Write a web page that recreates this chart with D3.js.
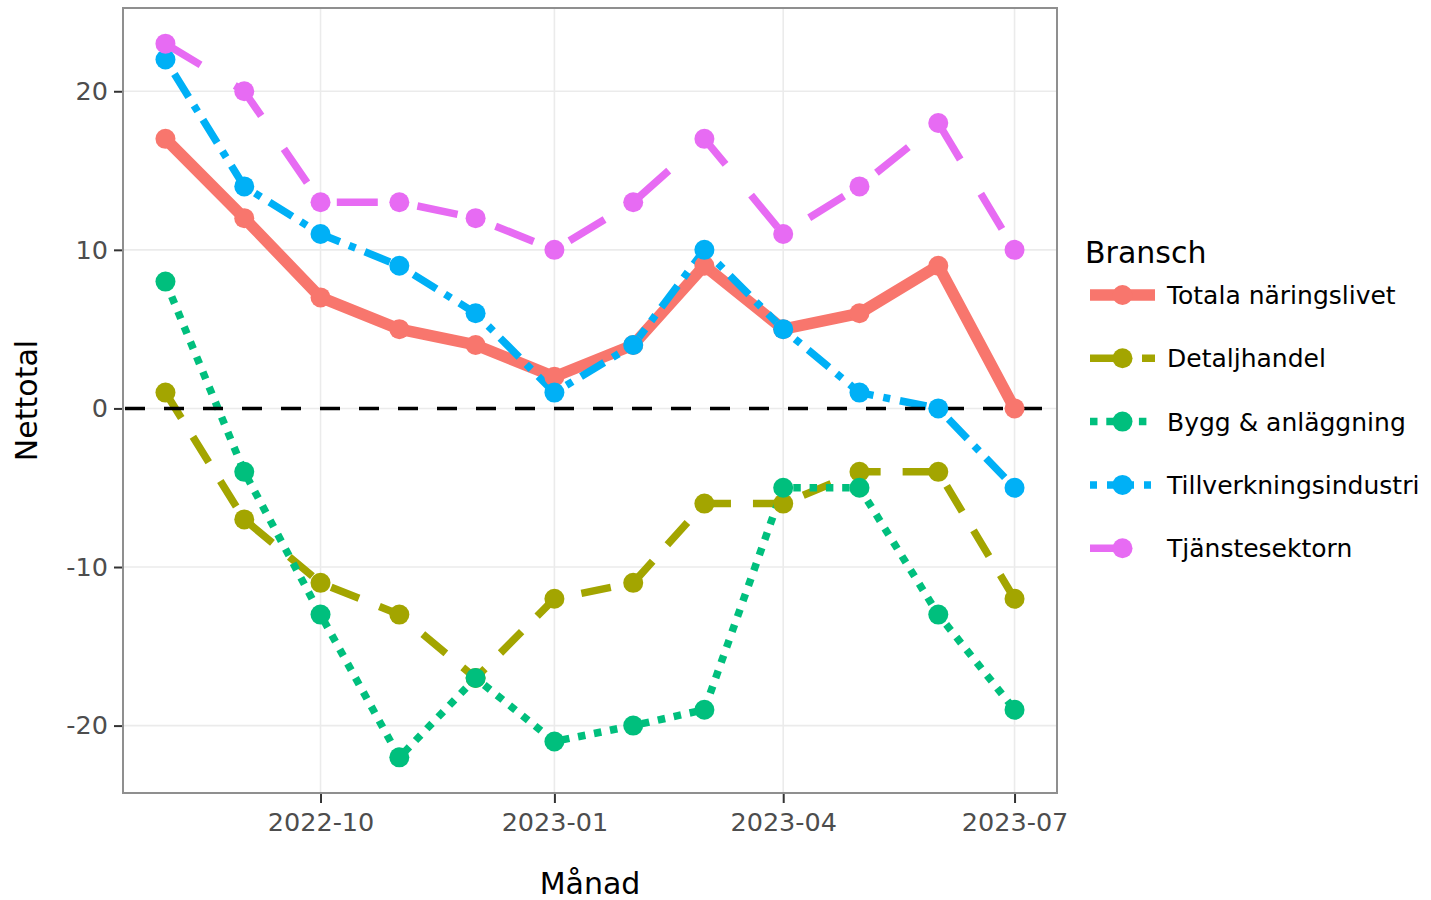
<!DOCTYPE html>
<html>
<head>
<meta charset="utf-8">
<script src="https://cdn.jsdelivr.net/npm/d3@7"></script>
<style>
  body { margin: 0; background: #fff; }
  svg { display: block; font-family: "DejaVu Sans", Verdana, sans-serif; }
</style>
</head>
<body>
<svg id="chart" width="1431" height="900"></svg>
<script>
// data
const months = ['2022-08', '2022-09', '2022-10', '2022-11', '2022-12', '2023-01',
                '2023-02', '2023-03', '2023-04', '2023-05', '2023-06', '2023-07'];
const seriesNames = ['Totala näringslivet', 'Detaljhandel', 'Bygg & anläggning',
                     'Tillverkningsindustri', 'Tjänstesektorn'];
const totala = [17, 12, 7, 5, 4, 2, 4, 9, 5, 6, 9, 0];
const detaljhandel = [1, -7, -11, -13, -17, -12, -11, -6, -6, -4, -4, -12];
const bygg = [8, -4, -13, -22, -17, -21, -20, -19, -5, -5, -13, -19];
const tillverkning = [22, 14, 11, 9, 6, 1, 4, 10, 5, 1, 0, -5];
const tjanste = [23, 20, 13, 13, 12, 10, 13, 17, 11, 14, 18, 10];
const xTicks = ['2022-10', '2023-01', '2023-04', '2023-07'];
const yTicks = [-20, -10, 0, 10, 20];

const colors = ['#F8766D', '#A3A500', '#00BF7D', '#00B0F6', '#E76BF3'];
const widths = [11.5, 7.5, 7.5, 7.5, 7.5];
const dashes = [null, '30 22', '7.5 8.8', '7 10 27 10', '41 40'];

const parse = d3.timeParse('%Y-%m');
const values = [totala, detaljhandel, bygg, tillverkning, tjanste];
const series = seriesNames.map((name, i) => ({
    name: name,
    color: colors[i],
    width: widths[i],
    dash: dashes[i],
    points: months.map((m, j) => ({ date: parse(m), value: values[i][j] }))
}));

const panel = { left: 123, right: 1057, top: 8, bottom: 793 };

// ggplot style 5% expansion
const d0 = parse(months[0]), d1 = parse(months[months.length - 1]);
const pad = (d1 - d0) * 0.05;
const x = d3.scaleTime()
    .domain([new Date(+d0 - pad), new Date(+d1 + pad)])
    .range([panel.left, panel.right]);

const allVals = values.flat();
const vmin = d3.min(allVals), vmax = d3.max(allVals);
const vpad = (vmax - vmin) * 0.05;
const y = d3.scaleLinear()
    .domain([vmin - vpad, vmax + vpad])
    .range([panel.bottom, panel.top]);

const svg = d3.select('#chart');

// grid
const grid = svg.append('g');
grid.selectAll('line.gy').data(yTicks).join('line')
    .attr('x1', panel.left).attr('x2', panel.right)
    .attr('y1', d => y(d)).attr('y2', d => y(d))
    .attr('stroke', '#ebebeb').attr('stroke-width', 1.6);
grid.selectAll('line.gx').data(xTicks).join('line')
    .attr('x1', d => x(parse(d))).attr('x2', d => x(parse(d)))
    .attr('y1', panel.top).attr('y2', panel.bottom)
    .attr('stroke', '#ebebeb').attr('stroke-width', 1.6);

// lines
const line = d3.line().x(d => x(d.date)).y(d => y(d.value));
svg.append('g').selectAll('path').data(series).join('path')
    .attr('d', d => line(d.points))
    .attr('fill', 'none')
    .attr('stroke', d => d.color)
    .attr('stroke-width', d => d.width)
    .attr('stroke-dasharray', d => d.dash)
    .attr('stroke-linejoin', 'round');

// zero line
svg.append('line')
    .attr('x1', panel.left + 2).attr('x2', panel.right - 2)
    .attr('y1', y(0)).attr('y2', y(0))
    .attr('stroke', '#000').attr('stroke-width', 3.5)
    .attr('stroke-dasharray', '20 19');

// points
svg.append('g').selectAll('g').data(series).join('g')
    .attr('fill', d => d.color)
    .selectAll('circle').data(d => d.points).join('circle')
    .attr('cx', d => x(d.date)).attr('cy', d => y(d.value))
    .attr('r', 10);

// panel border
svg.append('rect')
    .attr('x', panel.left).attr('y', panel.top)
    .attr('width', panel.right - panel.left).attr('height', panel.bottom - panel.top)
    .attr('fill', 'none').attr('stroke', '#8f8f8f').attr('stroke-width', 2);

// axes
const yAxis = svg.append('g')
    .attr('transform', `translate(${panel.left - 1},0)`)
    .call(d3.axisLeft(y).tickValues(yTicks).tickSize(8).tickPadding(6)
        .tickFormat(d => String(d)));
const xAxis = svg.append('g')
    .attr('transform', `translate(0,${panel.bottom + 1})`)
    .call(d3.axisBottom(x).tickValues(xTicks.map(parse)).tickSize(9).tickPadding(10)
        .tickFormat(d3.timeFormat('%Y-%m')));
[xAxis, yAxis].forEach(a => {
    a.select('.domain').remove();
    a.selectAll('.tick line').attr('stroke', '#333').attr('stroke-width', 2);
    a.selectAll('.tick text').attr('fill', '#4d4d4d')
        .style('font-family', '"DejaVu Sans", Verdana, sans-serif')
        .style('font-size', '25.5px');
});

// axis titles
svg.append('text')
    .attr('x', (panel.left + panel.right) / 2).attr('y', 894)
    .attr('text-anchor', 'middle').attr('font-size', 30)
    .text('Månad');
svg.append('text')
    .attr('transform', `translate(37,${(panel.top + panel.bottom) / 2}) rotate(-90)`)
    .attr('text-anchor', 'middle').attr('font-size', 30)
    .text('Nettotal');

// legend
const legend = svg.append('g').attr('transform', 'translate(1085,0)');
legend.append('text').attr('x', 0).attr('y', 263)
    .attr('font-size', 30).text('Bransch');
const keys = legend.selectAll('g.key').data(series).join('g')
    .attr('class', 'key')
    .attr('transform', (d, i) => `translate(0,${295 + i * 63.3})`);
keys.append('line')
    .attr('x1', 5).attr('x2', 70).attr('y1', 0).attr('y2', 0)
    .attr('stroke', d => d.color)
    .attr('stroke-width', d => d.width)
    .attr('stroke-dasharray', d => d.dash);
keys.append('circle').attr('cx', 37.5).attr('cy', 0).attr('r', 10)
    .attr('fill', d => d.color);
keys.append('text').attr('x', 82).attr('y', 9)
    .attr('font-size', 25).text(d => d.name);
</script>
</body>
</html>
